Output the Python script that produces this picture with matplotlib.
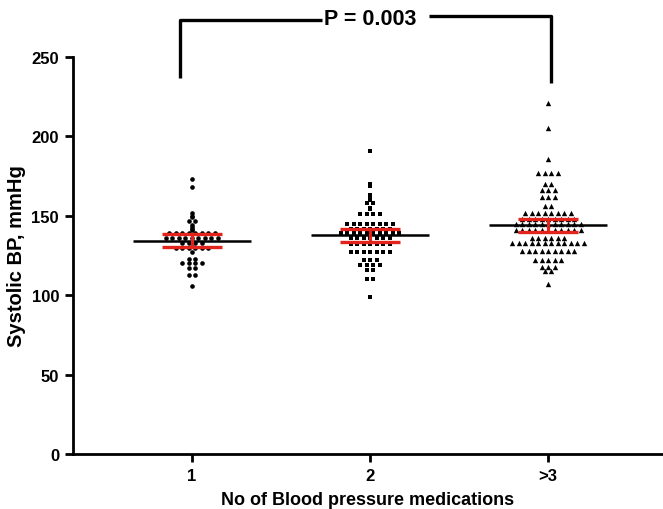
import matplotlib
matplotlib.use("Agg")
import matplotlib.pyplot as plt
import numpy as np

plt.rcParams["font.family"] = ["Liberation Sans", "DejaVu Sans"]
plt.rcParams["font.weight"] = "bold"

GROUPS    = ["1", "2", ">3"]
POSITIONS = [1, 2, 3]

# systolic BP readings per group (row by row)
bp_one = ([173, 168, 152, 150, 149, 147, 147, 144, 143, 142, 141]
          + [139] * 8 + [136] * 9 + [133] * 4 + [130] * 6
          + [127, 123, 123] + [120] * 4 + [117] * 2 + [113] * 2 + [106])
bp_two = ([191, 170, 169, 163, 162, 161, 160, 158, 158, 155, 154]
          + [151] * 4 + [145] * 8 + [142] * 7 + [139] * 10 + [136] * 7
          + [132] * 7 + [127] * 7 + [122] * 3 + [119] * 4 + [116] * 2
          + [110] * 2 + [99])
bp_three = ([221, 205, 186] + [177] * 4 + [170] * 2 + [166] * 3 + [162] * 3
            + [156] * 2 + [152] * 8 + [148] * 9 + [145] * 11 + [141] * 11
            + [136] * 6 + [133] * 12 + [128] * 9 + [122] * 5 + [118] * 3
            + [115] * 2 + [107])

MEANS   = [134.4, 138.2, 143.9]
CI_LOW  = [130.4, 133.7, 139.7]
CI_HIGH = [138.6, 141.8, 147.7]

P_TEXT = "P = 0.003"

MARKERS = ["o", "s", "^"]
SIZES   = [11, 10, 15]
RED     = "#e3241c"


def row_offsets(values, step):
    """GraphPad-style scatter: equal values spread symmetrically in a row."""
    values = np.asarray(values)
    offsets = np.zeros(len(values))
    for v in np.unique(values):
        idx = np.where(values == v)[0]
        offsets[idx] = (np.arange(len(idx)) - (len(idx) - 1) / 2) * step
    return offsets


fig = plt.figure(figsize=(6.63, 5.10), dpi=100)
ax = fig.add_axes([73 / 663, 55 / 510, 590 / 663, 397 / 510])
ax.set_xlim(0.3315, 3.646)
ax.set_ylim(0, 250)

step = 6.5 / 178
for pos, vals, mk, sz in zip(POSITIONS, [bp_one, bp_two, bp_three], MARKERS, SIZES):
    xs = pos + row_offsets(vals, step)
    ax.scatter(xs, vals, marker=mk, s=sz, color="black", linewidths=0, zorder=3)

for pos, m, lo, hi in zip(POSITIONS, MEANS, CI_LOW, CI_HIGH):
    ax.hlines(m, pos - 0.33, pos + 0.33, color="black", linewidth=1.8, zorder=4)
    ax.hlines([lo, hi], pos - 0.17, pos + 0.17, color=RED, linewidth=2.4, zorder=5)
    ax.vlines(pos, lo, hi, color=RED, linewidth=2.2, zorder=5)

# significance bracket
kw = dict(color="black", linewidth=2.4, clip_on=False, solid_capstyle="butt")
ax.plot([0.933, 0.933, 1.73], [237, 273.6, 273.6], **kw)
ax.plot([2.33, 3.017, 3.017], [275.8, 275.8, 233.5], **kw)
ax.text(2.0, 274.5, P_TEXT, ha="center", va="center", fontsize=15.5,
        fontweight="bold", clip_on=False)

ax.set_xticks(POSITIONS)
ax.set_xticklabels(GROUPS)
ax.set_yticks([0, 50, 100, 150, 200, 250])
ax.tick_params(axis="both", direction="out", length=6, width=2, labelsize=12, pad=4)
for lbl in ax.get_xticklabels() + ax.get_yticklabels():
    lbl.set_fontweight("bold")

ax.set_ylabel("Systolic BP, mmHg", fontsize=14.5, fontweight="bold", labelpad=4)
ax.set_xlabel("No of Blood pressure medications", fontsize=13, fontweight="bold", labelpad=6)

ax.spines[["top", "right"]].set_visible(False)
for side in ["left", "bottom"]:
    ax.spines[side].set_linewidth(2)

fig.savefig("out.png", dpi=100)
